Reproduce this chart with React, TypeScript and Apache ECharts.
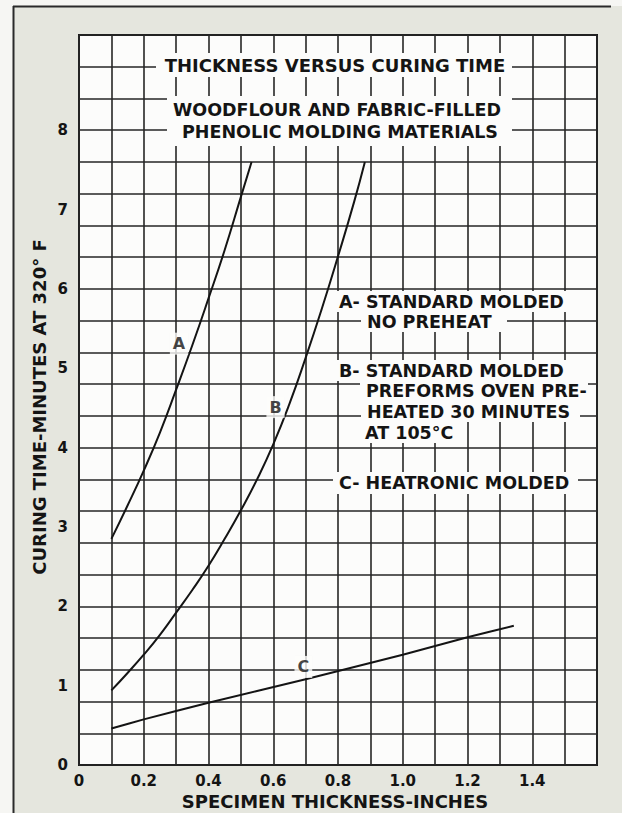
import React, { useEffect, useRef } from 'react';
import * as echarts from 'echarts';

// Curve A - standard molded, no preheat
const thicknessA = [0.1, 0.15, 0.2, 0.25, 0.3, 0.35, 0.4, 0.45, 0.5, 0.533];
const minutesA = [2.85, 3.27, 3.71, 4.19, 4.73, 5.29, 5.88, 6.49, 7.16, 7.6];

// Curve B - standard molded, preforms oven preheated
const thicknessB = [0.1, 0.15, 0.2, 0.25, 0.3, 0.35, 0.4, 0.45, 0.5, 0.55, 0.6, 0.65, 0.7, 0.75, 0.8, 0.85, 0.883];
const minutesB = [0.94, 1.16, 1.39, 1.64, 1.92, 2.205, 2.51, 2.85, 3.21, 3.6, 4.04, 4.55, 5.13, 5.75, 6.41, 7.1, 7.6];

// Curve C - heatronic molded
const thicknessC = [0.1, 0.2, 0.4, 0.7, 1.0, 1.2, 1.343];
const minutesC = [0.46, 0.575, 0.785, 1.08, 1.39, 1.61, 1.755];

// Letters set on the curves
const curveNames = ['A', 'B', 'C'];
const curveLabelThickness = [0.309, 0.607, 0.693];
const curveLabelMinutes = [5.31, 4.51, 1.236];

const xTickLabels = ['0', '0.2', '0.4', '0.6', '0.8', '1.0', '1.2', '1.4'];
const yTickLabels = ['0', '1', '2', '3', '4', '5', '6', '7', '8'];

const headingLines = ['THICKNESS VERSUS CURING TIME', 'WOODFLOUR AND FABRIC-FILLED', 'PHENOLIC MOLDING MATERIALS'];
const keyLines = [
  'A- STANDARD MOLDED',
  'NO PREHEAT',
  'B- STANDARD MOLDED',
  'PREFORMS OVEN PRE-',
  'HEATED 30 MINUTES',
  'AT 105°C',
  'C- HEATRONIC MOLDED',
];
const xAxisTitle = 'SPECIMEN THICKNESS-INCHES';
const yAxisTitle = 'CURING TIME-MINUTES AT 320° F';

const FONT = '"DejaVu Sans", "Liberation Sans", sans-serif';
const INK = '#141414';
const PAPER = '#fcfcfb';

const pairs = (xs: number[], ys: number[]) => xs.map((x, i) => [x, ys[i]]);

function textEl(text: string, x: number, y: number, size: number, align: string, extra: any = {}) {
  return {
    type: 'text',
    x,
    y,
    z: 60,
    ...extra,
    style: {
      text,
      fontFamily: FONT,
      fontSize: size,
      fontWeight: 'bold',
      fill: INK,
      align,
      textAlign: align,
      verticalAlign: 'middle',
      textVerticalAlign: 'middle',
    },
  };
}

function boxEl(x: number, y: number, w: number, h: number) {
  return { type: 'rect', z: 55, shape: { x, y, width: w, height: h }, style: { fill: PAPER } };
}

export default function App() {
  const ref = useRef<HTMLDivElement>(null);

  useEffect(() => {
    const chart = echarts.init(ref.current!, null, { renderer: 'svg' });

    // blank patches behind the texts, so the grid lines break around them
    const boxes = [
      boxEl(156, 53, 356, 24),
      boxEl(167, 96, 345, 50),
      boxEl(333, 291, 234, 21),
      boxEl(361, 311, 146, 21),
      boxEl(333, 360, 236, 21),
      boxEl(360, 381, 228, 20),
      boxEl(361, 401, 219, 21),
      boxEl(359, 422, 97, 21),
      boxEl(333, 472, 245, 22),
    ];

    const texts = [
      textEl(headingLines[0], 335, 65, 18, 'center'),
      textEl(headingLines[1], 337, 110, 17.5, 'center'),
      textEl(headingLines[2], 340, 132, 17.5, 'center'),
      textEl(keyLines[0], 339, 301.5, 17.5, 'left'),
      textEl(keyLines[1], 367, 321.5, 17.5, 'left'),
      textEl(keyLines[2], 339, 370.7, 17.5, 'left'),
      textEl(keyLines[3], 366, 391, 17.5, 'left'),
      textEl(keyLines[4], 367, 412.3, 17.5, 'left'),
      textEl(keyLines[5], 365, 433.3, 17.5, 'left'),
      textEl(keyLines[6], 339, 482.7, 17.5, 'left'),
      textEl(xAxisTitle, 335, 801, 18, 'center'),
      textEl(yAxisTitle, 39, 407, 18, 'center', { rotation: Math.PI / 2 }),
    ];

    const frame = [
      { type: 'rect', z: -10, shape: { x: 13, y: 6, width: 620, height: 820 }, style: { fill: '#e5e6de' } },
      { type: 'line', z: -9, shape: { x1: 13.5, y1: 6, x2: 13.5, y2: 813 }, style: { stroke: '#2a2a2a', lineWidth: 2 } },
      { type: 'line', z: -9, shape: { x1: 13, y1: 6.5, x2: 611, y2: 6.5 }, style: { stroke: '#2a2a2a', lineWidth: 2 } },
    ];

    const gridLine = { show: true, lineStyle: { color: '#262626', width: 1.6 } };

    const option: any = {
      animation: false,
      backgroundColor: '#f6f6f3',
      grid: {
        show: true,
        left: 79,
        right: 25,
        top: 35,
        bottom: 48,
        borderColor: '#1a1a1a',
        borderWidth: 2,
        backgroundColor: PAPER,
        z: 0,
      },
      xAxis: {
        type: 'value',
        min: 0,
        max: 1.6,
        interval: 0.1,
        axisLine: { show: false },
        axisTick: { show: false },
        splitLine: gridLine,
        axisLabel: {
          margin: 8,
          fontFamily: FONT,
          fontSize: 15,
          fontWeight: 'bold',
          color: INK,
          formatter: (v: number) => {
            const i = Math.round(v * 10);
            return i % 2 === 0 ? xTickLabels[i / 2] ?? '' : '';
          },
        },
      },
      yAxis: [
        {
          type: 'value',
          min: 0,
          max: 9.2,
          interval: 0.4,
          axisLine: { show: false },
          axisTick: { show: false },
          axisLabel: { show: false },
          splitLine: gridLine,
        },
        {
          type: 'value',
          position: 'left',
          min: 0,
          max: 9.2,
          interval: 1,
          axisLine: { show: false },
          axisTick: { show: false },
          splitLine: { show: false },
          axisLabel: {
            margin: 11,
            fontFamily: FONT,
            fontSize: 15,
            fontWeight: 'bold',
            color: INK,
            formatter: (v: number) => {
              const i = Math.round(v);
              return Math.abs(v - i) < 1e-6 ? yTickLabels[i] ?? '' : '';
            },
          },
        },
      ],
      graphic: { elements: [...frame, ...boxes, ...texts] },
      series: [
        { name: 'A', data: pairs(thicknessA, minutesA), smooth: 0.5 },
        { name: 'B', data: pairs(thicknessB, minutesB), smooth: 0.5 },
        { name: 'C', data: pairs(thicknessC, minutesC), smooth: 0.2 },
      ].map((s) => ({
        ...s,
        type: 'line',
        yAxisIndex: 0,
        symbol: 'none',
        lineStyle: { color: INK, width: 2 },
        z: 3,
      })).concat([
        {
          name: 'labels',
          type: 'scatter',
          yAxisIndex: 0,
          symbolSize: 0,
          itemStyle: { color: INK },
          data: curveNames.map((n, i) => ({ name: n, value: [curveLabelThickness[i], curveLabelMinutes[i]] })),
          label: {
            show: true,
            position: 'inside',
            formatter: '{b}',
            fontFamily: FONT,
            fontSize: 16,
            fontWeight: 'bold',
            color: INK,
            backgroundColor: PAPER,
            padding: [3, 3],
          },
          z: 4,
        } as any,
      ]),
    };

    chart.setOption(option);
    return () => chart.dispose();
  }, []);

  return <div ref={ref} style={{ position: 'absolute', left: 0, top: 0, width: 622, height: 813 }} />;
}
